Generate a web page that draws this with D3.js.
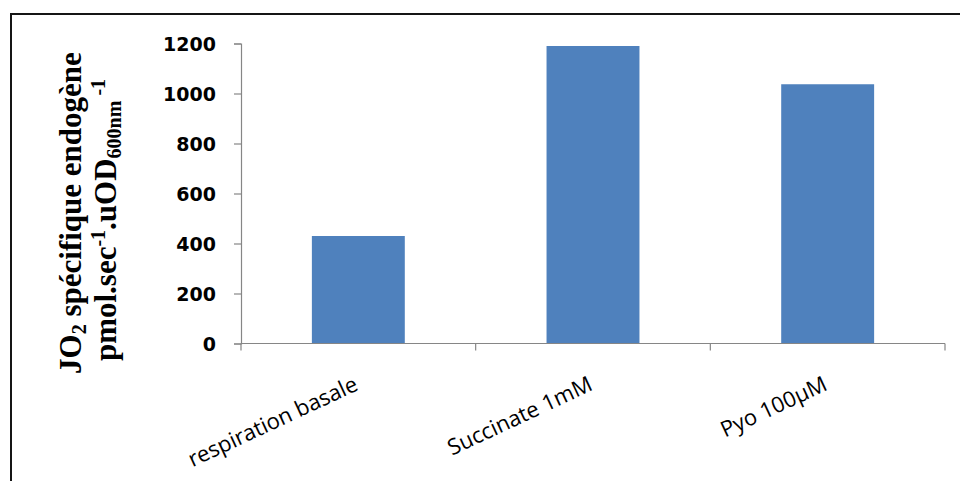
<!DOCTYPE html>
<html><head><meta charset="utf-8">
<script src="https://cdn.jsdelivr.net/npm/d3@7"></script>
<style>html,body{margin:0;padding:0;background:#fff;}</style>
</head><body>
<svg id="chart" width="960" height="481"></svg>
<script>
const categories = ["respiration basale", "Succinate 1mM", "Pyo 100µM"];
const values = [430, 1190, 1037];
const yTicks = [0, 200, 400, 600, 800, 1000, 1200];

const svg = d3.select("#chart");
const plotLeft = 241, plotRight = 945, plotTop = 43.5, plotBottom = 343.5;

// frame
svg.append("path").attr("d", "M11,481 L11,14 L960,14")
  .attr("fill", "none").attr("stroke", "#151515").attr("stroke-width", 2);

const x = d3.scaleBand().domain(categories).range([plotLeft, plotRight])
  .paddingInner(0.604).paddingOuter(0.302);
const xCat = d3.scaleBand().domain(categories).range([plotLeft, plotRight]).padding(0);
const y = d3.scaleLinear().domain([0, 1200]).range([plotBottom, plotTop]);

// bars
svg.append("g").selectAll("rect").data(values).join("rect")
  .attr("x", (d, i) => x(categories[i]))
  .attr("y", d => y(d))
  .attr("width", x.bandwidth())
  .attr("height", d => y(0) - y(d))
  .attr("fill", "#4F81BD");

// y axis
const yAxis = svg.append("g").attr("transform", `translate(${plotLeft},0)`)
  .call(d3.axisLeft(y).tickValues(yTicks).tickSize(7).tickPadding(18).tickFormat(d3.format("d")));
yAxis.select(".domain").attr("stroke", "#868686").attr("stroke-width", 1.2);
yAxis.selectAll(".tick line").attr("stroke", "#868686").attr("stroke-width", 1.2);
yAxis.selectAll(".tick text").attr("font-family", "'DejaVu Sans', sans-serif")
  .attr("font-weight", "bold").attr("font-size", 19).attr("fill", "#000")
  .attr("dy", "0.36em");

// x axis
const xAxisG = svg.append("g").attr("transform", `translate(0,${plotBottom})`);
xAxisG.append("line").attr("x1", plotLeft).attr("x2", plotRight).attr("y1", 0).attr("y2", 0)
  .attr("stroke", "#868686").attr("stroke-width", 1.2);
const xTickPos = categories.map(c => xCat(c)).concat([xCat(categories[categories.length - 1]) + xCat.bandwidth()]);
xAxisG.selectAll("line.tk").data(xTickPos).join("line").attr("class", "tk")
  .attr("x1", d => d).attr("x2", d => d).attr("y1", 0).attr("y2", 7)
  .attr("stroke", "#868686").attr("stroke-width", 1.2);

svg.append("g").selectAll("text").data(categories).join("text")
  .attr("transform", d => `translate(${xCat(d) + xCat.bandwidth() / 2 + 1},${plotBottom + 46}) rotate(-25)`)
  .attr("text-anchor", "end")
  .attr("font-family", "'Open Sans', sans-serif")
  .attr("font-size", 22).attr("fill", "#000")
  .text(d => d);

// y title
const tfont = "'Liberation Serif', 'Times New Roman', serif";
const t1 = svg.append("text").attr("transform", "translate(81,213) rotate(-90)")
  .attr("text-anchor", "middle").attr("font-family", tfont).attr("font-weight", "bold")
  .attr("font-size", 31).attr("fill", "#000");
t1.append("tspan").text("JO");
t1.append("tspan").attr("font-size", 20).attr("baseline-shift", "-0.25em").text("2");
t1.append("tspan").text(" spécifique endogène");

const t2 = svg.append("text").attr("transform", "translate(116,220) rotate(-90)")
  .attr("text-anchor", "middle").attr("font-family", tfont).attr("font-weight", "bold")
  .attr("font-size", 31).attr("fill", "#000");
t2.append("tspan").text("pmol.sec");
t2.append("tspan").attr("font-size", 20).attr("baseline-shift", "0.55em").text("-1");
t2.append("tspan").text(".uOD");
t2.append("tspan").attr("font-size", 20).attr("baseline-shift", "-0.25em").text("600nm");
t2.append("tspan").attr("font-size", 20).attr("baseline-shift", "0.55em").text(" -1");
</script>
</body></html>
